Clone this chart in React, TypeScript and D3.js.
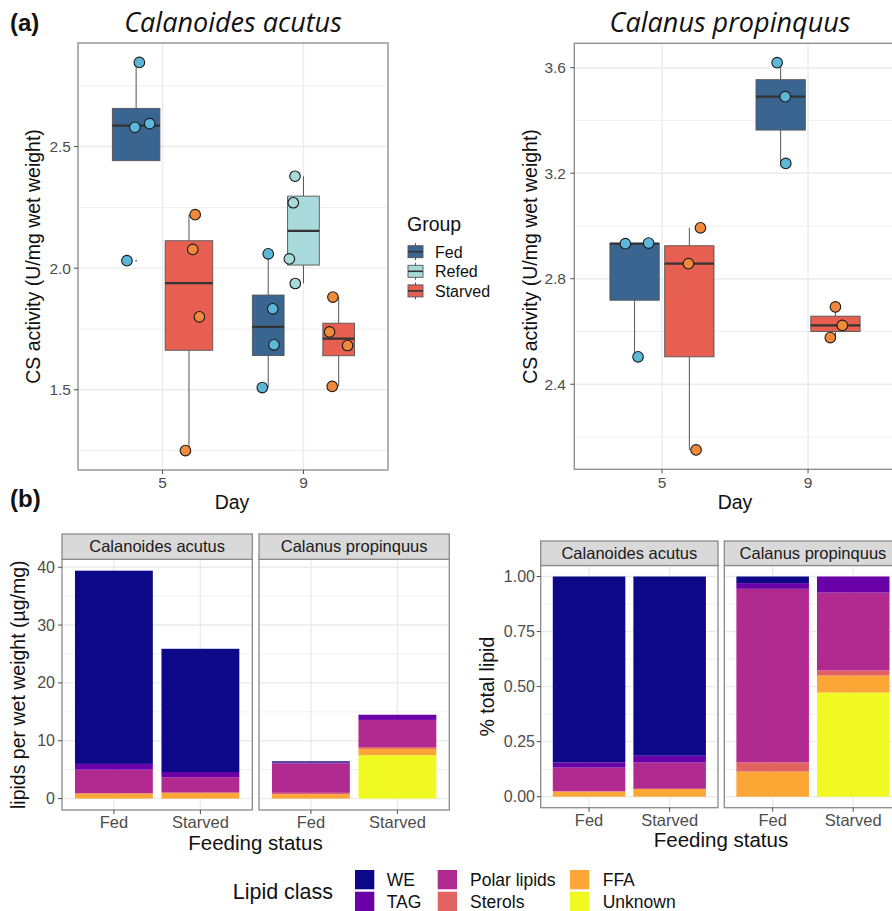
import React from "react";
import * as d3 from "d3";

// ---------- DATA ----------
const groupNames = ["Fed", "Refed", "Starved"];
const dayLevels = ["5", "9"];

// Calanoides acutus – CS activity
const caGroup = ["Fed","Fed","Fed","Fed","Starved","Starved","Starved","Starved","Fed","Fed","Fed","Fed","Refed","Refed","Refed","Refed","Starved","Starved","Starved","Starved"];
const caDay = ["5","5","5","5","5","5","5","5","9","9","9","9","9","9","9","9","9","9","9","9"];
const caValue = [2.031,2.579,2.594,2.846,2.22,2.077,1.80,1.25,2.059,1.833,1.685,1.509,2.378,2.269,2.038,1.937,1.881,1.738,1.682,1.514];
const caJitter = [-0.065,-0.009,0.096,0.023,0.044,0.027,0.074,-0.025,0,0.032,0.041,-0.042,-0.06,-0.072,-0.1,-0.058,-0.041,-0.065,0.063,-0.046];

// Calanus propinquus – CS activity
const cpGroup = ["Fed","Fed","Fed","Starved","Starved","Starved","Fed","Fed","Fed","Starved","Starved","Starved"];
const cpDay = ["5","5","5","5","5","5","9","9","9","9","9","9"];
const cpValue = [2.933,2.935,2.504,2.993,2.857,2.151,3.619,3.49,3.237,2.693,2.623,2.577];
const cpJitter = [-0.063,0.096,0.024,0.076,-0.006,0.046,-0.024,0.031,0.035,0,0.047,-0.035];

const caTicks = [1.5, 2.0, 2.5];
const caMinor = [1.25, 1.75, 2.25, 2.75];
const cpTicks = [2.4, 2.8, 3.2, 3.6];
const cpMinor = [2.2, 2.6, 3.0, 3.4];

// Lipids
const lipidClasses = ["WE", "TAG", "Polar lipids", "Sterols", "FFA", "Unknown"];
const stackOrder = ["Unknown", "FFA", "Sterols", "Polar lipids", "TAG", "WE"];
const species = ["Calanoides acutus", "Calanus propinquus"];
const feeding = ["Fed", "Starved"];

// absolute (µg/mg) per class, rows: [species][feeding]
const absWE = [[33.4, 21.3], [0.2, 0]];
const absTAG = [[1.0, 0.9], [0.15, 0.9]];
const absPolar = [[4.05, 2.65], [5.1, 4.7]];
const absSterols = [[0.1, 0.05], [0.25, 0.3]];
const absFFA = [[0.85, 1.0], [0.75, 1.1]];
const absUnknown = [[0, 0], [0, 7.5]];

// proportions
const pctWE = [[0.844, 0.814], [0.03, 0]];
const pctTAG = [[0.024, 0.031], [0.026, 0.073]];
const pctPolar = [[0.107, 0.119], [0.788, 0.354]];
const pctSterols = [[0.002, 0.001], [0.042, 0.023]];
const pctFFA = [[0.023, 0.035], [0.114, 0.077]];
const pctUnknown = [[0, 0], [0, 0.473]];

const absTicks = [0, 10, 20, 30, 40];
const absMinor = [5, 15, 25, 35];
const pctTicks = [0, 0.25, 0.5, 0.75, 1.0];
const pctMinor = [0.125, 0.375, 0.625, 0.875];

// ---------- STYLE ----------
const boxFill: Record<string, string> = { Fed: "#3a6591", Refed: "#a8dadb", Starved: "#e65f50" };
const ptFill: Record<string, string> = { Fed: "#5db7d8", Refed: "#a8dadb", Starved: "#f0893b" };
const lipidColor: Record<string, string> = {
  WE: "#0d0887", TAG: "#6a00a8", "Polar lipids": "#b12a90",
  Sterols: "#e16462", FFA: "#fca636", Unknown: "#f0f921",
};
const SANS = "'Liberation Sans', Arial, sans-serif";
const GRID = "#ebebeb";
const BORDER = "#8a8a8a";
const TICKC = "#4d4d4d";

function boxStats(vals: number[]) {
  const s = vals.slice().sort((a, b) => a - b);
  const q1 = d3.quantile(s, 0.25)!;
  const med = d3.quantile(s, 0.5)!;
  const q3 = d3.quantile(s, 0.75)!;
  const iqr = q3 - q1;
  const lo = q1 - 1.5 * iqr, hi = q3 + 1.5 * iqr;
  const inside = s.filter((v) => v >= lo && v <= hi);
  return { q1, med, q3, wlo: d3.min(inside)!, whi: d3.max(inside)!, out: s.filter((v) => v < lo || v > hi) };
}

type BoxPanelProps = {
  x0: number; x1: number; y0: number; y1: number;
  group: string[]; day: string[]; value: number[]; jitter: number[];
  ticks: number[]; minor: number[]; labelRight: number;
};

function BoxPanel(p: BoxPanelProps) {
  const [lo, hi] = d3.extent(p.value) as [number, number];
  const pad = (hi - lo) * 0.05;
  const y = d3.scaleLinear().domain([lo - pad, hi + pad]).range([p.y1, p.y0]);
  const x = d3.scaleLinear().domain([0.4, 2.6]).range([p.x0, p.x1]);
  const unit = x(1) - x(0);
  const els: React.ReactNode[] = [];
  const pts: React.ReactNode[] = [];
  const pos: Record<string, number> = {};
  dayLevels.forEach((d, di) => {
    const gs = groupNames.filter((g) => p.group.some((gg, i) => gg === g && p.day[i] === d));
    const n = gs.length;
    gs.forEach((g, gi) => {
      const cx = di + 1 - 0.375 + (gi + 0.5) * (0.75 / n);
      pos[g + "|" + d] = cx;
      const vals = p.value.filter((_, i) => p.group[i] === g && p.day[i] === d);
      const st = boxStats(vals);
      const hw = (0.75 / n) * 0.9 / 2;
      const X = x(cx);
      const W = hw * unit;
      els.push(
        <g key={g + d}>
          <line x1={X} x2={X} y1={y(st.q3)} y2={y(st.whi)} stroke="#555" strokeWidth={1} />
          <line x1={X} x2={X} y1={y(st.q1)} y2={y(st.wlo)} stroke="#555" strokeWidth={1} />
          <rect x={X - W} y={y(st.q3)} width={2 * W} height={y(st.q1) - y(st.q3)} fill={boxFill[g]} stroke="#555" strokeWidth={0.9} />
          <line x1={X - W} x2={X + W} y1={y(st.med)} y2={y(st.med)} stroke="#333" strokeWidth={2.2} />
          {st.out.map((v, k) => (
            <circle key={k} cx={X} cy={y(v)} r={1} fill="#777" />
          ))}
        </g>
      );
    });
  });
  p.value.forEach((v, i) => {
    const cx = pos[p.group[i] + "|" + p.day[i]] + p.jitter[i];
    pts.push(<circle key={i} cx={x(cx)} cy={y(v)} r={5.3} fill={ptFill[p.group[i]]} stroke="#1a1a1a" strokeWidth={1.1} />);
  });
  return (
    <g>
      {p.minor.map((t) => (
        <line key={"m" + t} x1={p.x0} x2={p.x1} y1={y(t)} y2={y(t)} stroke={GRID} strokeWidth={0.8} />
      ))}
      {p.ticks.map((t) => (
        <line key={"M" + t} x1={p.x0} x2={p.x1} y1={y(t)} y2={y(t)} stroke={GRID} strokeWidth={1.4} />
      ))}
      {dayLevels.map((d, i) => (
        <line key={"v" + d} x1={x(i + 1)} x2={x(i + 1)} y1={p.y0} y2={p.y1} stroke={GRID} strokeWidth={1.4} />
      ))}
      {els}
      {pts}
      <rect x={p.x0} y={p.y0} width={p.x1 - p.x0} height={p.y1 - p.y0} fill="none" stroke={BORDER} strokeWidth={1.3} />
      {p.ticks.map((t) => (
        <g key={"t" + t}>
          <line x1={p.x0 - 4} x2={p.x0} y1={y(t)} y2={y(t)} stroke={TICKC} strokeWidth={1} />
          <text x={p.labelRight} y={y(t) + 5.5} textAnchor="end" fontSize={15.5} fill={TICKC} fontFamily={SANS}>
            {t.toFixed(1)}
          </text>
        </g>
      ))}
      {dayLevels.map((d, i) => (
        <g key={"xt" + d}>
          <line x1={x(i + 1)} x2={x(i + 1)} y1={p.y1} y2={p.y1 + 4} stroke={TICKC} strokeWidth={1} />
          <text x={x(i + 1)} y={488} textAnchor="middle" fontSize={15.5} fill={TICKC} fontFamily={SANS}>
            {d}
          </text>
        </g>
      ))}
    </g>
  );
}

type BarPanelProps = {
  xs: [number, number][]; y0: number; y1: number; stripTop: number;
  data: Record<string, number[][]>; ticks: number[]; minor: number[];
  fmt: (v: number) => string; labelRight: number; domain: [number, number]; tickBaseline: number;
};

function BarPanels(p: BarPanelProps) {
  const y = d3.scaleLinear().domain(p.domain).range([p.y1, p.y0]);
  return (
    <g>
      {species.map((sp, si) => {
        const [x0, x1] = p.xs[si];
        const x = d3.scaleLinear().domain([0.4, 2.6]).range([x0, x1]);
        const unit = x(1) - x(0);
        const rows = feeding.map((f, fi) => {
          const r: Record<string, number | string> = { feeding: f };
          stackOrder.forEach((c) => (r[c] = p.data[c][si][fi]));
          return r;
        });
        const stacked = d3.stack<any>().keys(stackOrder)(rows as any);
        return (
          <g key={sp}>
            {p.minor.map((t) => (
              <line key={"m" + t} x1={x0} x2={x1} y1={y(t)} y2={y(t)} stroke={GRID} strokeWidth={0.8} />
            ))}
            {p.ticks.map((t) => (
              <line key={"M" + t} x1={x0} x2={x1} y1={y(t)} y2={y(t)} stroke={GRID} strokeWidth={1.4} />
            ))}
            {feeding.map((f, i) => (
              <line key={"v" + f} x1={x(i + 1)} x2={x(i + 1)} y1={p.y0} y2={p.y1} stroke={GRID} strokeWidth={1.4} />
            ))}
            {stacked.map((layer) =>
              layer.map((seg, i) => {
                const h = y(seg[0]) - y(seg[1]);
                if (h <= 0) return null;
                return (
                  <rect key={layer.key + i} x={x(i + 1) - 0.45 * unit} width={0.9 * unit}
                    y={y(seg[1])} height={h} fill={lipidColor[layer.key]} />
                );
              })
            )}
            <rect x={x0} y={p.y0} width={x1 - x0} height={p.y1 - p.y0} fill="none" stroke={BORDER} strokeWidth={1.3} />
            <rect x={x0} y={p.stripTop} width={x1 - x0} height={p.y0 - p.stripTop} fill="#d9d9d9" stroke={BORDER} strokeWidth={1.3} />
            <text x={(x0 + x1) / 2} y={(p.stripTop + p.y0) / 2 + 5.8} textAnchor="middle" fontSize={16.5} fill="#1a1a1a" fontFamily={SANS}>
              {sp}
            </text>
            {feeding.map((f, i) => (
              <g key={"xt" + f}>
                <line x1={x(i + 1)} x2={x(i + 1)} y1={p.y1} y2={p.y1 + 4} stroke={TICKC} strokeWidth={1} />
                <text x={x(i + 1)} y={p.tickBaseline} textAnchor="middle" fontSize={16.5} fill={TICKC} fontFamily={SANS}>
                  {f}
                </text>
              </g>
            ))}
          </g>
        );
      })}
      {p.ticks.map((t) => (
        <g key={"yt" + t}>
          <line x1={p.xs[0][0] - 4} x2={p.xs[0][0]} y1={y(t)} y2={y(t)} stroke={TICKC} strokeWidth={1} />
          <text x={p.labelRight} y={y(t) + 5.5} textAnchor="end" fontSize={16} fill={TICKC} fontFamily={SANS}>
            {p.fmt(t)}
          </text>
        </g>
      ))}
    </g>
  );
}

export default function App() {
  const absData: Record<string, number[][]> = {
    WE: absWE, TAG: absTAG, "Polar lipids": absPolar, Sterols: absSterols, FFA: absFFA, Unknown: absUnknown,
  };
  const pctData: Record<string, number[][]> = {
    WE: pctWE, TAG: pctTAG, "Polar lipids": pctPolar, Sterols: pctSterols, FFA: pctFFA, Unknown: pctUnknown,
  };
  const absTotals = species.flatMap((_, si) => feeding.map((_, fi) => d3.sum(stackOrder, (c) => absData[c][si][fi])));
  const absMax = d3.max(absTotals)!;
  const absDomain: [number, number] = [-absMax * 0.05, absMax * 1.05];
  const pctDomain: [number, number] = [-0.05, 1.05];

  return (
    <svg width={892} height={911} style={{ position: "absolute", left: 0, top: 0, background: "#fff" }} fontFamily={SANS}>
      <rect width={892} height={911} fill="#fff" />
      {/* (a) */}
      <text x={10} y={31} fontSize={24} fontWeight="bold" fill="#111" fontFamily={SANS}>(a)</text>
      <text x={233} y={32} textAnchor="middle" fontSize={27} fontStyle="italic" fill="#111" fontFamily="'Open Sans', sans-serif">
        Calanoides acutus
      </text>
      <text x={730} y={32} textAnchor="middle" fontSize={27} fontStyle="italic" fill="#111" fontFamily="'Open Sans', sans-serif">
        Calanus propinquus
      </text>

      <BoxPanel x0={78} x1={388} y0={43} y1={470} group={caGroup} day={caDay} value={caValue} jitter={caJitter}
        ticks={caTicks} minor={caMinor} labelRight={71} />
      <BoxPanel x0={574.3} x1={895.7} y0={43.3} y1={469.3} group={cpGroup} day={cpDay} value={cpValue} jitter={cpJitter}
        ticks={cpTicks} minor={cpMinor} labelRight={566} />

      <text transform="translate(40,256.5) rotate(-90)" textAnchor="middle" fontSize={19.5} fill="#111" fontFamily={SANS}>
        CS activity (U/mg wet weight)
      </text>
      <text transform="translate(537,256.5) rotate(-90)" textAnchor="middle" fontSize={19.5} fill="#111" fontFamily={SANS}>
        CS activity (U/mg wet weight)
      </text>
      <text x={232} y={509} textAnchor="middle" fontSize={19.5} fill="#111" fontFamily={SANS}>Day</text>
      <text x={735} y={509} textAnchor="middle" fontSize={19.5} fill="#111" fontFamily={SANS}>Day</text>

      {/* Group legend */}
      <text x={407} y={231} fontSize={19.5} fill="#111" fontFamily={SANS}>Group</text>
      {groupNames.map((g, i) => {
        const cy = 251.7 + i * 19.6;
        return (
          <g key={g}>
            <line x1={415.5} x2={415.5} y1={cy - 8.5} y2={cy + 8.5} stroke="#555" strokeWidth={1} />
            <rect x={408} y={cy - 6} width={15} height={12} fill={boxFill[g]} stroke="#555" strokeWidth={0.9} />
            <line x1={408} x2={423} y1={cy} y2={cy} stroke="#333" strokeWidth={1.6} />
            <text x={435} y={cy + 5.8} fontSize={16} fill="#111" fontFamily={SANS}>{g}</text>
          </g>
        );
      })}

      {/* (b) */}
      <text x={10} y={507} fontSize={24} fontWeight="bold" fill="#111" fontFamily={SANS}>(b)</text>

      <BarPanels xs={[[62, 252.3], [259, 449.3]]} y0={559.3} y1={810} stripTop={534} data={absData}
        ticks={absTicks} minor={absMinor} fmt={(v) => String(v)} labelRight={55} domain={absDomain} tickBaseline={828} />
      <BarPanels xs={[[540.7, 718], [724.3, 901.6]]} y0={565.5} y1={807.7} stripTop={541} data={pctData}
        ticks={pctTicks} minor={pctMinor} fmt={(v) => v.toFixed(2)} labelRight={535} domain={pctDomain} tickBaseline={826} />

      <text transform="translate(25,684.7) rotate(-90)" textAnchor="middle" fontSize={19.5} fill="#111" fontFamily={SANS}>
        lipids per wet weight (µg/mg)
      </text>
      <text transform="translate(494,686.6) rotate(-90)" textAnchor="middle" fontSize={19.5} fill="#111" fontFamily={SANS}>
        % total lipid
      </text>
      <text x={255.5} y={850} textAnchor="middle" fontSize={20.5} fill="#111" fontFamily={SANS}>Feeding status</text>
      <text x={721} y={847} textAnchor="middle" fontSize={20.5} fill="#111" fontFamily={SANS}>Feeding status</text>

      {/* Lipid legend */}
      <text x={232.7} y={899.3} fontSize={21.5} fill="#111" fontFamily={SANS}>Lipid class</text>
      {lipidClasses.map((c, i) => {
        const col = Math.floor(i / 2);
        const row = i % 2;
        const kx = [355, 437.7, 570][col];
        const lx = [386.7, 470, 602.7][col];
        const ky = 870 + row * 21.7;
        return (
          <g key={c}>
            <rect x={kx} y={ky} width={19.3} height={19.3} fill={lipidColor[c]} />
            <text x={lx} y={ky + 16} fontSize={17.5} fill="#111" fontFamily={SANS}>{c}</text>
          </g>
        );
      })}
    </svg>
  );
}
